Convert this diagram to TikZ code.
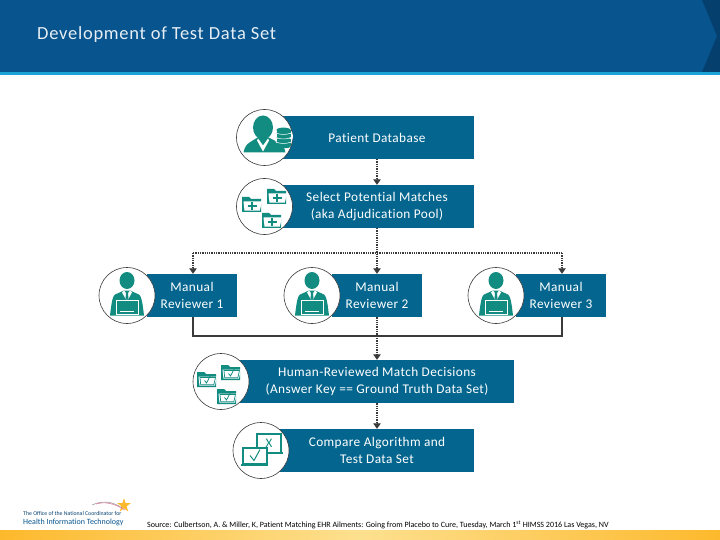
\documentclass[tikz,border=0pt]{standalone}
\usepackage{fontspec}
\setmainfont{Carlito}[Ligatures=NoCommon]
\usetikzlibrary{arrows.meta,shapes.geometric}
\definecolor{boxblue}{HTML}{04668F}
\definecolor{headblue}{HTML}{07548F}
\definecolor{headdark}{HTML}{053F6E}
\definecolor{rulecyan}{HTML}{1BA3D8}
\definecolor{icteal}{HTML}{128C80}
\definecolor{linedark}{HTML}{3A3A3A}
\definecolor{bandorange}{HTML}{FDB92C}
\definecolor{bandlight}{HTML}{FDE08F}
\tikzset{
  x=1pt,y=-1pt,
  stepbox/.style={fill=boxblue,text=white,align=center,inner sep=0pt,minimum height=43pt,font=\fontsize{13.3}{17}\selectfont\addfontfeatures{LetterSpace=3}},
  ring/.style={circle,draw=linedark,line width=0.6pt,fill=white,minimum size=56pt,inner sep=0pt},
  dotline/.style={draw=linedark,line width=2pt,dash pattern=on 1.3pt off 1pt},
  solidline/.style={draw=linedark,line width=2.2pt},
  tip/.style={-{Triangle[length=5.5pt,width=7.5pt,fill=linedark]}},
  pics/reviewer/.style={code={
    \fill[icteal] (0,-15) ellipse [x radius=7.5,y radius=8.5];
    \fill[icteal] (-3,-5) -- (3,-5) -- (12,-1) .. controls (15,1) and (16,12) .. (17,20) -- (-17,20) .. controls (-16,12) and (-15,1) .. (-12,-1) -- cycle;
    \fill[white] (-3,-5) -- (0,-1) -- (3,-5) -- (5,-3) -- (1,4) -- (-1,4) -- (-5,-3) -- cycle;
    \fill[icteal] (-1,-3) -- (1,-3) -- (1.5,4) -- (-1.5,4) -- cycle;
    \draw[white,line width=1pt,fill=icteal] (-11,5) rectangle (11,19);
    \draw[white,line width=0.8pt] (-7,16) -- (7,16);
  }},
  pics/dbperson/.style={code={
    \fill[icteal] (-1.5,-10) ellipse [x radius=10,y radius=12];
    \fill[icteal] (-7,0) -- (4,0) -- (14,5) .. controls (18,7) and (20,10) .. (21,15) -- (-21,15) .. controls (-20,10) and (-18,7) .. (-15,5) -- cycle;
    \fill[white] (-6.5,1) -- (-1.5,8) -- (3.5,1) -- (4.5,3) -- (-1.5,14) -- (-7.5,3) -- cycle;
    \fill[white] (19,-1) circle (9.5);
    \foreach \dy in {-6,-1.5,3,7.5}{
      \fill[icteal] (12,\dy-1.5) rectangle (26,\dy+1.5);
      \fill[icteal] (19,\dy+1.5) ellipse [x radius=7,y radius=1.8];
    }
    \fill[icteal] (19,-7.5) ellipse [x radius=7,y radius=2.4];
    \draw[white,line width=0.5pt] (12,-4.5) .. controls (15,-2.5) and (23,-2.5) .. (26,-4.5);
    \draw[white,line width=0.5pt] (12,0) .. controls (15,2) and (23,2) .. (26,0);
    \draw[white,line width=0.5pt] (12,4.5) .. controls (15,6.5) and (23,6.5) .. (26,4.5);
  }},
  pics/folderplus/.style={code={
    \fill[icteal] (-10,-7) -- (-3,-7) -- (-1,-5) -- (9,-5) -- (9,8) -- (-10,8) -- cycle;
    \fill[white] (-8.5,-2.5) -- (10,-2.5) -- (7.8,6.7) -- (-7.5,6.7) -- cycle;
    \draw[icteal,line width=2pt] (-4.5,2) -- (4.5,2) (0,-2) -- (0,6);
  }},
  pics/foldercheck/.style={code={
    \fill[icteal] (-10,-7) -- (-3,-7) -- (-1,-5) -- (9,-5) -- (9,8) -- (-10,8) -- cycle;
    \fill[white] (-8.5,-2.5) -- (10,-2.5) -- (7.8,6.7) -- (-7.5,6.7) -- cycle;
    \draw[icteal,line width=0.7pt] (-7,-1.5) -- (8.5,-1.5) -- (6.8,5.8) -- (-6.3,5.8) -- cycle;
    \draw[icteal,line width=0.8pt] (-2.5,1.5) -- (-0.5,4) -- (3.5,-3.5);
  }},
}
\begin{document}
\begin{tikzpicture}
\useasboundingbox (0,0) rectangle (720,540);
% header
\fill[headblue] (0,0) rectangle (720,72);
\fill[headdark] (702,0) -- (720,0) -- (720,72) -- (702,72) -- (717,36) -- cycle;
\fill[rulecyan] (0,72) rectangle (720,75);
\node[anchor=west,text=white!90!headblue,inner sep=0pt,font=\fontsize{18.5}{20}\selectfont\addfontfeatures{LetterSpace=4}] (title) at (37,34.5) {Development of Test Data Set};
% footer band
\shade[left color=bandorange,right color=bandlight] (0,530) rectangle (360,540);
\shade[left color=bandlight,right color=bandorange] (360,530) rectangle (720,540);
% boxes
\node[stepbox,minimum width=194pt] (db) at (377,137.5) {Patient Database};
\node[stepbox,minimum width=194pt] (sel) at (377,206.5) {Select Potential Matches\\(aka Adjudication Pool)};
\node[stepbox,minimum width=90pt] (rev1) at (192,295.5) {Manual\\Reviewer 1};
\node[stepbox,minimum width=90pt] (rev2) at (377,295.5) {Manual\\Reviewer 2};
\node[stepbox,minimum width=90pt] (rev3) at (561,295.5) {Manual\\Reviewer 3};
\node[stepbox,minimum width=274pt] (human) at (377,381.5) {Human-Reviewed Match Decisions\\(Answer Key == Ground Truth Data Set)};
\node[stepbox,minimum width=194pt] (cmp) at (377,450.5) {Compare Algorithm and\\Test Data Set};
% connectors
\coordinate (busl) at (193,253);
\coordinate (busm) at (377,253);
\coordinate (busr) at (562,253);
\coordinate (sumM) at (377,336);
\draw[dotline] (db.south) -- ([yshift=5pt]sel.north);
\draw[tip,draw=linedark,line width=1pt] ([yshift=5.5pt]sel.north) -- (sel.north);
\draw[dotline] (sel.south) -- ([yshift=5pt]rev2.north);
\draw[tip,draw=linedark,line width=1pt] ([yshift=5.5pt]rev2.north) -- (rev2.north);
\draw[dotline] (busl) -- (busr);
\draw[dotline] (busl) -- ([xshift=1pt,yshift=5pt]rev1.north);
\draw[tip,draw=linedark,line width=1pt] ([xshift=1pt,yshift=5.5pt]rev1.north) -- ([xshift=1pt]rev1.north);
\draw[dotline] (busr) -- ([xshift=1pt,yshift=5pt]rev3.north);
\draw[tip,draw=linedark,line width=1pt] ([xshift=1pt,yshift=5.5pt]rev3.north) -- ([xshift=1pt]rev3.north);
\draw[solidline] ([xshift=1pt]rev1.south) |- (sumM) -| ([xshift=1pt]rev3.south);
\draw[dotline] (rev2.south) -- ([yshift=5pt]human.north);
\draw[tip,draw=linedark,line width=1pt] ([yshift=5.5pt]human.north) -- (human.north);
\draw[dotline] (human.south) -- ([yshift=5pt]cmp.north);
\draw[tip,draw=linedark,line width=1pt] ([yshift=5.5pt]cmp.north) -- (cmp.north);
% rings
\node[ring] (c1) at (264.5,137.5) {};
\node[ring] (c2) at (264.5,206.5) {};
\node[ring] (c3) at (127,295.5) {};
\node[ring] (c4) at (312,295.5) {};
\node[ring] (c5) at (496,295.5) {};
\node[ring] (c6) at (221,381.5) {};
\node[ring] (c7) at (261,450.5) {};
% icons
\pic at (c1.center) {dbperson};
\pic at (252,204) {folderplus};
\pic at (277,196) {folderplus};
\pic at (272,220) {folderplus};
\pic at (c3.center) {reviewer};
\pic at (c4.center) {reviewer};
\pic at (c5.center) {reviewer};
\pic at (207,379) {foldercheck};
\pic at (231,372) {foldercheck};
\pic at (227,396) {foldercheck};
% laptops
\begin{scope}[shift={(c7.center)}]
\draw[icteal,line width=1.6pt,fill=white] (-4,-16.5) rectangle (20,2);
\fill[icteal] (-6,1) rectangle (22,3.5);
\node[text=icteal,inner sep=0pt,font=\fontsize{13}{13}\selectfont] (xmark) at (8,-7.5) {X};
\draw[icteal,line width=1.6pt,fill=white] (-18,-2.5) rectangle (6,13);
\fill[icteal] (-20,13) rectangle (7,15.5);
\draw[icteal,line width=1pt] (-11,5) -- (-7,10) -- (-1,-1);
\end{scope}
% logo
\fill[bandorange] (124,498) -- (125.5,503) -- (131,503) -- (126.6,506.2) -- (128.2,511.5) -- (124,508.3) -- (119.8,511.5) -- (121.4,506.2) -- (117,503) -- (122.5,503) -- cycle;
\draw[line width=0.7pt,draw=gray!70] (92,505) .. controls (102,500.5) and (112,501) .. (122,508);
\draw[line width=0.6pt,draw=purple!50] (96,504) .. controls (105,501.5) and (114,503) .. (125,510);
\node[anchor=west,inner sep=0pt,text=headdark,font=\fontsize{5.8}{7}\selectfont] (logo1) at (23,514) {The Office of the National Coordinator for};
\node[anchor=west,inner sep=0pt,text=headblue,font=\fontsize{8}{9}\selectfont] (logo2) at (23,522) {Health Information Technology};
% source
\node[anchor=west,inner sep=0pt,text=black,font=\fontsize{8.05}{9}\selectfont] (src) at (147,525) {Source: Culbertson, A. \& Miller, K, Patient Matching EHR Ailments: Going from Placebo to Cure, Tuesday, March 1\textsuperscript{st} HIMSS 2016 Las Vegas, NV};
\end{tikzpicture}
\end{document}
